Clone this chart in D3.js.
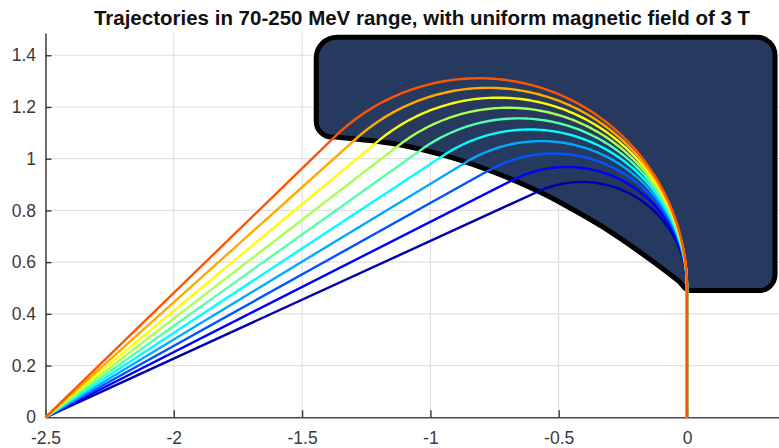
<!DOCTYPE html>
<html><head><meta charset="utf-8">
<script src="https://cdn.jsdelivr.net/npm/d3@7"></script>
<style>
body{margin:0;background:#fff;}
svg{display:block;}
</style>
</head><body>
<svg id="chart" width="779" height="448"></svg>
<script>
// ---------- data ----------
const titleText = "Trajectories in 70-250 MeV range, with uniform magnetic field of 3 T";
const xTicks = [-2.5, -2, -1.5, -1, -0.5, 0];
const xTickLabels = ["-2.5", "-2", "-1.5", "-1", "-0.5", "0"];
const yTicks = [0, 0.2, 0.4, 0.6, 0.8, 1, 1.2, 1.4];
const yTickLabels = ["0", "0.2", "0.4", "0.6", "0.8", "1", "1.2", "1.4"];
const energiesMeV = [70, 90, 110, 130, 150, 170, 190, 210, 230, 250];
// bending radius (m) of each trajectory, read from the arc apexes
const radii = [0.410, 0.468, 0.520, 0.568, 0.613, 0.656, 0.697, 0.736, 0.774, 0.811];
const trajColors = ["#0000aa", "#0000ff", "#0055ff", "#00aaff", "#00ffff",
                    "#55ffaa", "#aaff55", "#ffff00", "#ffaa00", "#ff5500"];
const sourcePoint = [-2.5, 0];     // common origin of all trajectories
const exitY = 0.5;                 // where arcs meet x = 0 going vertically
const exitX = 0;
// magnet outline: rectangle part
const magnetTop = 1.47, magnetRight = 0.343, magnetBottom = 0.49, magnetLeft = -1.445, magnetLeftLow = 1.078;
// magnet lower (entrance) edge, from upper-left to lower-right
const magnetEdgeX = [-1.371, -1.126, -0.923, -0.735, -0.580, -0.482, -0.330, -0.125, -0.03];
const magnetEdgeY = [1.084, 1.055, 1.006, 0.941, 0.874, 0.824, 0.737, 0.597, 0.525];

// ---------- layout ----------
const W = 779, H = 448;
const x0px = 45.5, pxPerX = 256.6, y0px = 417.3, pxPerY = 258.6;
const xDom = [-2.5, 0.45], yDom = [0, 1.486];
const x = d3.scaleLinear().domain(xDom).range([x0px, x0px + pxPerX * (xDom[1] - xDom[0])]);
const y = d3.scaleLinear().domain(yDom).range([y0px, y0px - pxPerY * (yDom[1] - yDom[0])]);
const FONT = "'Liberation Sans', Arial, Helvetica, sans-serif";

const svg = d3.select("#chart");
svg.append("rect").attr("width", W).attr("height", H).attr("fill", "#ffffff");

// grid
const grid = svg.append("g").attr("stroke", "#e0e0e0").attr("stroke-width", 1.2);
grid.selectAll("line.vx").data(xTicks).join("line")
  .attr("x1", d => x(d)).attr("x2", d => x(d))
  .attr("y1", y(yDom[0])).attr("y2", y(yDom[1]));
grid.selectAll("line.hy").data(yTicks.filter(d => d > 0)).join("line")
  .attr("y1", d => y(d)).attr("y2", d => y(d))
  .attr("x1", x(xDom[0])).attr("x2", x(xDom[1]));

// magnet
const mp = d3.path();
const edgePts = magnetEdgeX.map((d, i) => [x(d), y(magnetEdgeY[i])]);
d3.line().curve(d3.curveCatmullRom.alpha(0.5)).context(mp)(edgePts);
mp.arcTo(x(exitX), y(magnetBottom), x(magnetRight), y(magnetBottom), 10);
mp.arcTo(x(magnetRight), y(magnetBottom), x(magnetRight), y(magnetTop), 16);
mp.arcTo(x(magnetRight), y(magnetTop), x(magnetLeft), y(magnetTop), 18);
mp.arcTo(x(magnetLeft), y(magnetTop), x(magnetLeft), y(magnetLeftLow), 21);
mp.arcTo(x(magnetLeft), y(magnetLeftLow), edgePts[0][0], edgePts[0][1], 16);
mp.closePath();
svg.append("path").attr("d", mp.toString())
  .attr("fill", "#263a5f").attr("stroke", "#000").attr("stroke-width", 5)
  .attr("stroke-linejoin", "round");

// axes
const xAxis = d3.axisBottom(x).tickValues(xTicks).tickFormat((d, i) => xTickLabels[i])
  .tickSizeInner(-7).tickSizeOuter(0).tickPadding(14.5);
const yAxis = d3.axisLeft(y).tickValues(yTicks).tickFormat((d, i) => yTickLabels[i])
  .tickSizeInner(-6).tickSizeOuter(0).tickPadding(9.5);
const gx = svg.append("g").attr("transform", `translate(0,${y0px})`).call(xAxis);
const gy = svg.append("g").attr("transform", `translate(${x0px},0)`).call(yAxis);
[gx, gy].forEach(g => {
  g.select(".domain").attr("stroke", "#4a4a4a").attr("stroke-width", 1.6);
  g.selectAll(".tick line").attr("stroke", "#3a3a3a").attr("stroke-width", 1.4);
  g.selectAll(".tick text").attr("fill", "#3a3a3a").attr("font-size", 17.5).attr("font-family", FONT);
});
gy.selectAll(".tick line").filter(d => d === 0).remove();

// trajectories
const lineGen = d3.line().x(d => x(d[0])).y(d => y(d[1]));
function trajectory(R) {
  const [px, py] = sourcePoint;
  const cx = exitX - R, cy = exitY;
  const dx = cx - px, dy = cy - py;
  const dist = Math.hypot(dx, dy);
  const dir = Math.atan2(dy, dx) + Math.asin(R / dist);
  const L = Math.sqrt(dist * dist - R * R);
  const tx = px + L * Math.cos(dir), ty = py + L * Math.sin(dir);
  const a0 = Math.atan2(ty - cy, tx - cx);
  const pts = [[px, py], [tx, ty]];
  const n = 120;
  for (let k = 1; k <= n; k++) {
    const a = a0 * (1 - k / n);
    pts.push([cx + R * Math.cos(a), cy + R * Math.sin(a)]);
  }
  pts.push([exitX, 0]);
  return pts;
}
svg.append("g").selectAll("path").data(radii).join("path")
  .attr("d", d => lineGen(trajectory(d)))
  .attr("fill", "none")
  .attr("stroke", (d, i) => trajColors[i])
  .attr("stroke-width", 2.4)
  .attr("stroke-linejoin", "round");

// title
svg.append("text").attr("x", 422).attr("y", 25).attr("text-anchor", "middle")
  .attr("font-family", FONT).attr("font-weight", "bold").attr("font-size", 20.5)
  .attr("fill", "#111").text(titleText);
</script>
</body></html>
